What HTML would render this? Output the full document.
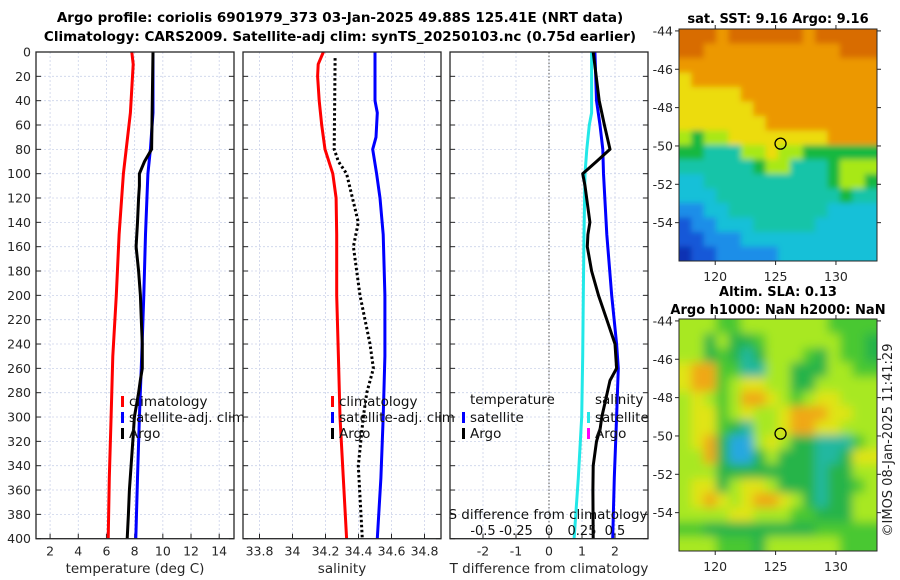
<!DOCTYPE html>
<html><head><meta charset="utf-8"><style>
body{margin:0;background:#fff;}
svg{display:block;font-family:"DejaVu Sans","Liberation Sans",sans-serif;}
</style></head><body>
<svg id="fig" width="900" height="580" viewBox="0 0 900 580">
<defs>
<filter id="blurS" x="0" y="0" width="1" height="1"><feGaussianBlur stdDeviation="3"/></filter>
<filter id="blurL" x="0" y="0" width="1" height="1"><feGaussianBlur stdDeviation="5"/></filter>
<clipPath id="clipTop"><rect x="679" y="29" width="198" height="232"/></clipPath>
<clipPath id="clipBot"><rect x="679" y="319" width="198" height="232"/></clipPath>
</defs>
<rect width="900" height="580" fill="#fff"/>
<text x="340" y="22" text-anchor="middle" font-size="13.5" font-weight="bold">Argo profile: coriolis 6901979_373 03-Jan-2025 49.88S 125.41E (NRT data)</text>
<text x="340" y="41" text-anchor="middle" font-size="13.5" font-weight="bold">Climatology: CARS2009. Satellite-adj clim: synTS_20250103.nc (0.75d earlier)</text>
<g id="g"></g>
</svg>
<script>
// ---- data ----
const depthTicks=[0,20,40,60,80,100,120,140,160,180,200,220,240,260,280,300,320,340,360,380,400];
const tempTicks=[2,4,6,8,10,12,14];
const salTicks=[33.8,34,34.2,34.4,34.6,34.8];
const tdiffTicks=[-2,-1,0,1,2];
const sdiffTicks=[-0.5,-0.25,0,0.25,0.5];
const sdiffTickLabels=["-0.5","-0.25","0","0.25","0.5"];
// temperature panel
const climTDepth=[0,10,50,80,100,150,200,250,300,350,400];
const climT=[7.8,7.9,7.7,7.4,7.2,6.9,6.7,6.45,6.33,6.2,6.12];
const satTDepth=[0,50,80,100,150,200,250,300,350,400];
const satT=[9.3,9.3,9.12,8.94,8.77,8.65,8.5,8.34,8.2,8.08];
const argoTDepth=[0,40,80,90,100,110,120,140,160,180,200,220,240,260,270,280,300,320,340,360,380,400];
const argoT=[9.3,9.25,9.2,8.7,8.34,8.34,8.28,8.2,8.1,8.28,8.41,8.47,8.54,8.54,8.4,8.28,7.98,7.87,7.75,7.63,7.56,7.47];
// salinity panel
const climSDepth=[0,10,20,40,60,80,100,120,150,200,250,300,350,400];
const climS=[34.187,34.156,34.152,34.162,34.177,34.197,34.244,34.264,34.268,34.268,34.278,34.288,34.308,34.328];
const satSDepth=[0,40,50,70,80,100,120,150,200,250,300,350,400];
const satS=[34.5,34.5,34.514,34.506,34.486,34.51,34.53,34.55,34.56,34.56,34.55,34.536,34.514];
const argoSDepth=[5,80,90,100,140,160,200,240,260,280,300,340,400];
const argoS=[34.258,34.253,34.278,34.328,34.399,34.369,34.409,34.47,34.49,34.45,34.429,34.399,34.423];
// difference panel
const satSdiffDepth=[0,50,60,80,100,150,200,250,300,350,400];
const satSdiff=[0.323,0.323,0.305,0.286,0.273,0.265,0.26,0.255,0.248,0.222,0.19];
const satTdiffDepth=[0,40,60,80,100,150,200,240,260,300,350,400];
const satTdiff=[1.39,1.44,1.545,1.63,1.65,1.75,1.9,2.05,2.1,2.05,1.98,1.93];
const argoTdiffDepth=[0,40,60,80,90,100,110,140,150,160,180,200,220,240,260,270,300,310,320,340,360,400];
const argoTdiff=[1.34,1.52,1.68,1.85,1.44,1.02,1.09,1.24,1.18,1.16,1.29,1.5,1.75,2.0,2.05,1.85,1.6,1.55,1.44,1.34,1.33,1.34];
// maps
const latTicks=[-44,-46,-48,-50,-52,-54];
const lonTicks=[120,125,130];
const argoLon=125.41, argoLat=-49.88;
const sstGrid=[
"9998999999899999",
"9988888888888999",
"8888888888888888",
"7888888888888888",
"7777788888888888",
"7777778888888888",
"7777777888888888",
"6566777777778888",
"5544466766555555",
"4444445664445666",
"3344444444445665",
"3334444444444544",
"2233444444443333",
"1223334444433333",
"1122233333333333",
"0112222233333333"];
const sstColors=["#0a32b4","#1458d8","#1e8ee8","#18c0d8","#14c4a8","#18b840","#a8e818","#ecdc10","#ec9800","#d86c00"];
const slaGrid=[
"4443344444443333",
"4424223444444332",
"4423212444324332",
"5663311442224433",
"5663455442244444",
"4543466543455444",
"4553454456665544",
"4553214456655444",
"4562004542211134",
"4462002422211255",
"4442222222212244",
"4552455422212234",
"4565456654212244",
"4444554443322244",
"3322222222233333",
"4443332444444333"];
const slaColors=["#28a8e0","#20b8a0","#28b448","#48c830","#a8e820","#e0e418","#f0a818"];

const NS="http://www.w3.org/2000/svg";
const G=document.getElementById('g');
function mk(tag,attrs,parent){const e=document.createElementNS(NS,tag);for(const k in attrs)e.setAttribute(k,attrs[k]);(parent||G).appendChild(e);return e;}
function txt(x,y,s,attrs,parent){const e=mk('text',Object.assign({x:x,y:y,'font-size':12,fill:'#262626'},attrs||{}),parent);e.textContent=s;return e;}

const TOP=52,BOT=538.7;
const yD=d=>TOP+(BOT-TOP)*d/400;
function linScale(d0,d1,p0,p1){return v=>p0+(v-d0)*(p1-p0)/(d1-d0);}

function panel(name,x0,x1,xs,ticks,labels,xlabel,showY){
  const g=mk('g',{});
  
  
  depthTicks.forEach(d=>{mk('line',{x1:x0,x2:x1,y1:yD(d),y2:yD(d),stroke:'#ccd3ea','stroke-width':0.8,'stroke-dasharray':'2,2'},g);});
  ticks.forEach(t=>{mk('line',{x1:xs(t),x2:xs(t),y1:TOP,y2:BOT,stroke:'#ccd3ea','stroke-width':0.8,'stroke-dasharray':'2,2'},g);});
  depthTicks.forEach(d=>{mk('line',{x1:x0,x2:x0+5,y1:yD(d),y2:yD(d),stroke:'#262626'},g);mk('line',{x1:x1-5,x2:x1,y1:yD(d),y2:yD(d),stroke:'#262626'},g);
    if(showY){const t=txt(31,yD(d)+4.5,String(d),{'text-anchor':'end','font-size':12.5},g);}});
  ticks.forEach((t,i)=>{mk('line',{x1:xs(t),x2:xs(t),y1:BOT-5,y2:BOT,stroke:'#262626'},g);
    const e=txt(xs(t),BOT+17,labels[i],{'text-anchor':'middle','font-size':12.5},g);});
  const xl=txt((x0+x1)/2,573,xlabel,{'text-anchor':'middle','font-size':13.5},g);
  
  return g;
}
function series(g,name,vals,depths,xs,color,dash){
  const pts=vals.map((v,i)=>xs(v).toFixed(1)+','+yD(depths[i]).toFixed(1)).join(' ');
  const p=mk('polyline',{points:pts,fill:'none',stroke:color,'stroke-width':3,'stroke-linejoin':'round'},g);
  if(dash)p.setAttribute('stroke-dasharray',dash);
  
  
}
function frame(g,x0,x1){mk('rect',{x:x0,y:TOP,width:x1-x0,height:BOT-TOP,fill:'none',stroke:'#262626','stroke-width':1.3},g);}
function legendItem(g,x,y,color,label,name){
  mk('rect',{x:x,y:y-10,width:3,height:11,fill:color},g);
  const t=txt(x+8,y,label,{'font-size':13.5,fill:'#111'},g);
  
}

// Panel 1
const xT=linScale(1,15.05,36,234);
const p1=panel('temperature',36,234,xT,tempTicks,tempTicks.map(String),'temperature (deg C)',true);
series(p1,'climatology-temperature-line',climT,climTDepth,xT,'#ff0000');
series(p1,'satellite-temperature-line',satT,satTDepth,xT,'#0000ff');
series(p1,'argo-temperature-line',argoT,argoTDepth,xT,'#000000');
legendItem(p1,121,406,'#ff0000','climatology','legend-climatology');
legendItem(p1,121,422,'#0000ff','satellite-adj. clim','legend-satellite');
legendItem(p1,121,438,'#000000','Argo','legend-argo');
frame(p1,36,234);

// Panel 2
const xS=linScale(33.7,34.9,243,441);
const p2=panel('salinity',243,441,xS,salTicks,salTicks.map(String),'salinity',false);
series(p2,'climatology-salinity-line',climS,climSDepth,xS,'#ff0000');
series(p2,'satellite-salinity-line',satS,satSDepth,xS,'#0000ff');
series(p2,'argo-salinity-line',argoS,argoSDepth,xS,'#000000','2.5,2.5');
legendItem(p2,331,406,'#ff0000','climatology','legend-climatology');
legendItem(p2,331,422,'#0000ff','satellite-adj. clim','legend-satellite');
legendItem(p2,331,438,'#000000','Argo','legend-argo');
frame(p2,243,441);

// Panel 3
const xTd=linScale(-3,3,450,648);
const xSd=v=>xTd(v*4);
const p3=panel('difference',450,648,xTd,tdiffTicks,tdiffTicks.map(String),'T difference from climatology',false);
mk('line',{x1:xTd(0),x2:xTd(0),y1:TOP,y2:BOT,stroke:'#555','stroke-width':1,'stroke-dasharray':'1.5,2'},p3);
series(p3,'satellite-salinity-diff-line',satSdiff,satSdiffDepth,xSd,'#22e8e8');
series(p3,'satellite-temperature-diff-line',satTdiff,satTdiffDepth,xTd,'#0000ff');
series(p3,'argo-temperature-diff-line',argoTdiff,argoTdiffDepth,xTd,'#000000');
{const t=txt(470,404,'temperature',{'font-size':13.5,fill:'#111'},p3);}
legendItem(p3,462,422,'#0000ff','satellite','legend-temp-satellite');
legendItem(p3,462,438,'#000000','Argo','legend-temp-argo');
{const t=txt(595,404,'salinity',{'font-size':13.5,fill:'#111'},p3);}
legendItem(p3,587,422,'#22e8e8','satellite','legend-sal-satellite');
legendItem(p3,587,438,'#ff00ff','Argo','legend-sal-argo');
{const t=txt(548,519,'S difference from climatology',{'font-size':13.5,'text-anchor':'middle',fill:'#111'},p3);}
sdiffTicks.forEach((v,i)=>{const t=txt(xSd(v),535,sdiffTickLabels[i],{'text-anchor':'middle','font-size':13,fill:'#111'},p3);});
frame(p3,450,648);

// Maps
function map(name,y0,y1,grid,colors,filt,clip){
  const x0=679,x1=877;
  const g=mk('g',{});
  
  
  const lx=linScale(117,133.4,x0,x1), ly=linScale(-43.9,-56,y0,y1);
  const rows=grid.length, cols=grid[0].length;
  const cw=(x1-x0)/cols, ch=(y1-y0)/rows;
  const clipG=mk('g',{'clip-path':'url(#'+clip+')'},g);
  const cells=mk('g',{filter:'url(#'+filt+')'},clipG);
  for(let r=-2;r<rows+2;r++){
    const rr=Math.min(rows-1,Math.max(0,r));
    for(let c=-2;c<cols+2;c++){
      const cc=Math.min(cols-1,Math.max(0,c));
      const cell=mk('rect',{x:(x0+c*cw).toFixed(2),y:(y0+r*ch).toFixed(2),width:(cw+0.6).toFixed(2),height:(ch+0.6).toFixed(2),fill:colors[+grid[rr][cc]]},cells);
      
      
    }
  }
  mk('rect',{x:x0,y:y0,width:x1-x0,height:y1-y0,fill:'none',stroke:'#262626','stroke-width':1},g);
  latTicks.forEach(l=>{mk('line',{x1:x0-4,x2:x0,y1:ly(l),y2:ly(l),stroke:'#262626'},g);mk('line',{x1:x1,x2:x1+4,y1:ly(l),y2:ly(l),stroke:'#262626'},g);
    const t=txt(x0-6,ly(l)+4.5,String(l),{'text-anchor':'end','font-size':12.5},g);});
  lonTicks.forEach(l=>{mk('line',{x1:lx(l),x2:lx(l),y1:y0-4,y2:y0,stroke:'#262626'},g);mk('line',{x1:lx(l),x2:lx(l),y1:y1,y2:y1+4,stroke:'#262626'},g);
    const t=txt(lx(l),y1+20,String(l),{'text-anchor':'middle','font-size':12.5},g);});
  const c=mk('circle',{cx:lx(argoLon),cy:ly(argoLat),r:5.5,fill:'none',stroke:'#000','stroke-width':1.3},g);
  
  
  return g;
}
map('sst-map',29,261,sstGrid,sstColors,'blurS','clipTop');
map('sla-map',319,551,slaGrid,slaColors,'blurL','clipBot');
{const t=txt(778,23,'sat. SST: 9.16 Argo: 9.16',{'text-anchor':'middle','font-size':13,'font-weight':'bold',fill:'#000'});}
{const t=txt(778,296,'Altim. SLA: 0.13',{'text-anchor':'middle','font-size':13,'font-weight':'bold',fill:'#000'});}
{const t=txt(778,314,'Argo h1000: NaN h2000: NaN',{'text-anchor':'middle','font-size':13,'font-weight':'bold',fill:'#000'});}
{const t=txt(0,0,'©IMOS 08-Jan-2025 11:41:29',{'text-anchor':'middle','font-size':13,fill:'#222',transform:'translate(892,440) rotate(-90)'});}
</script>
</body></html>
